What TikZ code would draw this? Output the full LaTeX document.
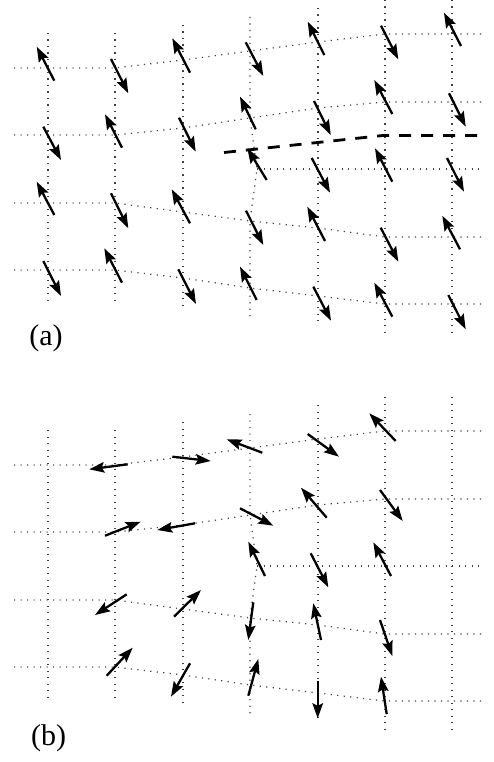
\documentclass[tikz,border=0pt]{standalone}
\usepackage{fontspec}
\setmainfont{Liberation Serif}
\usetikzlibrary{arrows.meta}

\begin{document}
\begin{tikzpicture}[x=1pt, y=-1pt,
  lattice/.style={line width=1.2pt, black!75, dash pattern=on 1.2pt off 5.3pt},
  spin/.style={-{Stealth[length=15pt, width=10.5pt, inset=2.5pt]}, line width=2.3pt},
  cut/.style={line width=2.8pt, dash pattern=on 12pt off 10pt},
  panel/.style={font=\fontsize{30}{34}\selectfont, inner sep=0pt}
]
  \useasboundingbox (0,0) rectangle (493,762);

  % distorted lattice, same in both panels
  \foreach \dy in {0,397} {
    \begin{scope}[shift={(0,\dy)}]
      \draw[lattice] (14,68) -- (115,68) -- (183,60) -- (250,51) -- (318,42) -- (385,34) -- (483,34);
      \draw[lattice] (14,135) -- (115,135) -- (183,128) -- (250,118) -- (318,108) -- (385,102) -- (483,102);
      \draw[lattice] (257,169) -- (483,169);
      \draw[lattice] (14,203) -- (115,203) -- (183,212) -- (250,221) -- (318,228) -- (385,237) -- (483,237);
      \draw[lattice] (14,270) -- (115,270) -- (183,278) -- (250,288) -- (318,296) -- (385,304) -- (483,304);
      \foreach \x/\top/\bot in {48/33/305, 115/33/305, 183/25/308, 318/8/325, 385/0/333, 452/0/333}
        \draw[lattice] (\x,\top) -- (\x,\bot);
      \draw[lattice] (250,17) -- (250,118) -- (257,169) -- (250,221) -- (250,320);
    \end{scope}
  }

  % panel (a)
  \foreach \tx/\ty/\hx/\hy in {
      54.3/80.7/36.7/46.7, 43.3/126.7/61/160, 54.3/215/36.7/181.7, 43.3/261/61/296,
      111/59/128.3/93.3, 122/147.7/105/114.3, 111/193.3/128.3/228.3, 122/282.7/104.3/248.3,
      190/72.7/172.3/38.3, 179/117.7/195.7/151.7, 190/223.3/171.7/189.3, 178.3/269.3/196/304,
      245.7/42.3/263.3/76, 255.7/129.3/240/96.7, 266.7/180/247.3/148.3, 246/210.7/263.3/245, 256.7/300/240/266.7,
      324.3/55/307.7/21.7, 314/101/330.7/135, 311.7/158/330/192.7, 325/241/307.3/206.7, 313.3/286.7/331/320.7,
      381/25.7/398.3/59.3, 392.3/114/374.3/80, 392.3/181.7/375/148.3, 380.7/227.7/398.3/261.7, 392.3/316.7/374.3/282.7,
      461/46/444/12.7, 449/93.3/465.7/126.7, 447/158/464/191.7, 460/249.3/442.3/215.7, 448.3/295/465.7/329.3}
    \draw[spin] (\tx,\ty) -- (\hx,\hy);
  \draw[cut] (224,152.5) -- (383,135.5) -- (483,135.5);
  \node[panel] (laba) at (46,338) {(a)};

  % panel (b)
  \foreach \tx/\ty/\hx/\hy in {
      127.7/464.3/89.3/469.3, 172.3/456.7/210.7/461, 262.3/452.7/226.7/439.3, 307.7/434/339/456.7, 395.7/441/369.3/413.3,
      105/535.7/140.7/521.7, 195/523.3/157.3/530, 240/508.3/273.3/525.7, 326.7/517.7/301/487.7, 380/490/402.7/521,
      265/576/248.3/541.7, 310.7/553.3/328.3/587.3, 391/576/373.3/542.3,
      126.7/594.3/95/615, 174/616.7/201/590, 253.3/602.3/248.3/640, 321/640/313.3/603.3, 380/620/392.3/656,
      106.7/675.7/132.7/647.7, 190/663.3/171/696.7, 248.3/695.7/258.3/659, 317.7/680.7/317.7/718.3, 386.7/714/381/676.7}
    \draw[spin] (\tx,\ty) -- (\hx,\hy);
  \node[panel] (labb) at (48.5,738.5) {(b)};
\end{tikzpicture}
\end{document}
